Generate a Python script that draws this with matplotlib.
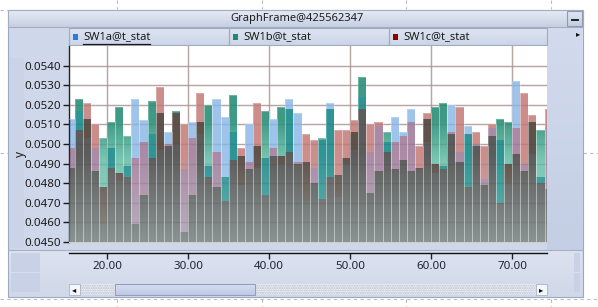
import numpy as np
import matplotlib
matplotlib.use("Agg")
import matplotlib.pyplot as plt
from matplotlib.patches import Rectangle
from matplotlib.path import Path

plt.rcParams['font.family'] = ['Noto Sans', 'DejaVu Sans']

# bar positions (left edges) and the three series
bins = list(range(15, 75))
sw1a = [.0513, .0517, .0503, .0498, .0459, .0498, .0481, .0489, .0523, .0512,
        .0505, .0497, .0506, .0500, .0487, .0511, .0505, .0489, .0523, .0514,
        .0506, .0479, .0510, .0488, .0493, .0513, .0490, .0523, .0516, .0471,
        .0488, .0502, .0521, .0473, .0490, .0497, .0524, .0496, .0509, .0501,
        .0514, .0506, .0518, .0487, .0501, .0485, .0489, .0520, .0496, .0509,
        .0500, .0482, .0508, .0502, .0480, .0532, .0490, .0495, .0483, .0509]
sw1b = [.0488, .0523, .0513, .0486, .0503, .0511, .0519, .0504, .0459, .0474,
        .0522, .0516, .0499, .0517, .0455, .0474, .0511, .0520, .0478, .0483,
        .0525, .0494, .0487, .0499, .0517, .0494, .0519, .0518, .0490, .0491,
        .0480, .0503, .0518, .0484, .0493, .0506, .0534, .0475, .0486, .0506,
        .0487, .0492, .0486, .0488, .0513, .0519, .0521, .0505, .0491, .0505,
        .0499, .0479, .0504, .0513, .0511, .0495, .0486, .0511, .0507, .0477]
sw1c = [.0498, .0507, .0521, .0510, .0478, .0488, .0485, .0483, .0493, .0501,
        .0493, .0529, .0500, .0516, .0510, .0503, .0526, .0483, .0496, .0471,
        .0492, .0498, .0491, .0521, .0474, .0498, .0494, .0496, .0491, .0505,
        .0502, .0472, .0483, .0507, .0507, .0512, .0518, .0510, .0511, .0496,
        .0501, .0504, .0511, .0499, .0516, .0490, .0487, .0506, .0519, .0478,
        .0506, .0499, .0510, .0470, .0490, .0508, .0526, .0515, .0480, .0518]
series_names = ['SW1a@t_stat', 'SW1b@t_stat', 'SW1c@t_stat']
legend_cols = ['#2a7fd4', '#1f8a72', '#8b0000']
xticks = [20, 30, 40, 50, 60, 70]
yticks = [0.045 + 0.001 * i for i in range(10)]

W, H = 598, 307
XMIN, XMAX = 15.3, 74.3
YMIN, YMAX = 0.045, 0.055
BASE = 0.040

# colours of the see-through overlaps
single_col = ['#9ec4ec', None, '#cc8d8b']            # a, b(gradient), c alone
pair_col = ['#5f524b', '#ab8aa6', '#2f9494']          # without a, without b, without c
all_col = '#5c5c5c'

fig = plt.figure(figsize=(W / 100, H / 100), dpi=100)
fig.patch.set_facecolor('white')

ui = fig.add_axes([0, 0, 1, 1])
ui.axis('off')


def rect(x0, y0, x1, y1, fc, ec='none', lw=0, z=1, **kw):
    ui.add_patch(Rectangle((x0, y0), x1 - x0, y1 - y0, facecolor=fc,
                           edgecolor=ec, linewidth=lw, zorder=z, **kw))


def vgrad(x0, y0, x1, y1, ctop, cbot, z=1):
    g = np.linspace(0, 1, 32)[:, None, None]
    arr = (np.array(ctop) * (1 - g) + np.array(cbot) * g) / 255.0
    ui.imshow(arr, extent=[x0, x1, y1, y0], aspect='auto', zorder=z,
              interpolation='bilinear')


# designer guides
dash = dict(color='#bcbcbc', lw=0.8, ls=(0, (3, 3)), zorder=0.5)
for gx in [117, 262, 406, 551]:
    ui.plot([gx, gx], [0, 9], **dash)
    ui.plot([gx, gx], [299, 307], **dash)
ui.plot([0, W], [299, 299], **dash)
ui.plot([0, 8], [10, 10], **dash)
ui.plot([583, W], [153, 153], **dash)
ui.plot([0, 8], [153, 153], **dash)

# panel
rect(8, 10, 583, 297, '#cfd8ea', ec='#9fa9bd', lw=0.8, z=1)
vgrad(8, 10, 583, 27, (230, 235, 244), (198, 208, 227), z=2)
rect(8, 10, 583, 27, 'none', ec='#a3adc2', lw=0.8, z=3)
ui.text(297, 19, 'GraphFrame@425562347', ha='center', va='center',
        fontsize=8, color='#1e1e1e', zorder=4)
vgrad(567, 11, 582, 26, (226, 232, 243), (196, 206, 226), z=3)
rect(567, 11, 582, 26, 'none', ec='#8f9ab2', lw=0.8, z=4)
ui.plot([572, 578], [19.5, 19.5], color='#222222', lw=1.4, zorder=5)

# side strips
vgrad(547, 28, 583, 250, (210, 219, 237), (196, 206, 228), z=2)
rect(9, 58, 24, 248, '#cbd4e7', z=2)
ui.plot([8, 583], [250, 250], color='#a6afc3', lw=0.8, zorder=3)

# x-axis band
vgrad(9, 251, 582, 296, (220, 226, 240), (208, 216, 233), z=2)
rect(11, 253, 40, 272, '#c8d1e5', z=3)
rect(11, 273, 40, 292, '#c8d1e5', z=3)
rect(574, 253, 580, 272, '#c8d1e5', z=3)
rect(574, 273, 580, 292, '#c8d1e5', z=3)

# scrollbar
rect(69, 284, 547, 295, '#eef0f5', ec='#b7bfd0', lw=0, z=3, hatch='.......')
rect(69, 284, 80, 295, '#f4f6fa', ec='#a9b3c8', lw=0.6, z=4)
rect(536, 284, 547, 295, '#f4f6fa', ec='#a9b3c8', lw=0.6, z=4)
ui.text(74.5, 289.5, '\u25c2', ha='center', va='center', fontsize=6,
        color='#111111', zorder=5, family='DejaVu Sans')
ui.text(541.5, 289.5, '\u25b8', ha='center', va='center', fontsize=6,
        color='#111111', zorder=5, family='DejaVu Sans')
vgrad(115, 284, 255, 295, (214, 222, 240), (190, 202, 228), z=4)
rect(115, 284, 255, 295, 'none', ec='#8e9cba', lw=0.7, z=5)

# legend tabs
tab_edges = [69, 229, 389, 547]
for i, name in enumerate(series_names):
    x0, x1 = tab_edges[i], tab_edges[i + 1]
    vgrad(x0, 28, x1, 45, (222, 228, 241), (204, 213, 232), z=3)
    rect(x0, 28, x1, 45, 'none', ec='#a0abc2', lw=0.8, z=4)
    rect(x0 + 4, 34, x0 + 9, 39.5, legend_cols[i], z=5)
    ui.text(x0 + 14, 37, name, ha='left', va='center', fontsize=8,
            color='#1a1a1a', zorder=5)
ui.plot([83, 150], [43.5, 43.5], color='#1a1a1a', lw=0.9, zorder=5)
ui.text(578, 34, '\u25b8', ha='center', va='center', fontsize=6,
        color='#111111', zorder=5, family='DejaVu Sans')

ui.text(20, 154, 'y', rotation=90, ha='center', va='center', fontsize=8.5,
        color='#1a1a1a', zorder=5)

ui.set_xlim(0, W)
ui.set_ylim(H, 0)

# plot area
ax = fig.add_axes([69 / W, 1 - 242 / H, 478 / W, 196 / H])
ax.set_facecolor('white')
ax.set_axisbelow(True)
ax.grid(True, color='#c9b6b6', lw=1)

x = np.array(bins)
hs = np.vstack([sw1a, sw1b, sw1c])
order = np.argsort(hs, axis=0)
lo = hs.min(axis=0)
mid = np.median(hs, axis=0)
hi = hs.max(axis=0)
low_idx = order[0]
top_idx = order[2]


def bars_path(xs, y0s, y1s):
    verts, codes = [], []
    for xi, a, b in zip(xs, y0s, y1s):
        verts += [(xi, a), (xi + 1, a), (xi + 1, b), (xi, b), (xi, a)]
        codes += [Path.MOVETO, Path.LINETO, Path.LINETO, Path.LINETO, Path.CLOSEPOLY]
    return Path(verts, codes)


# part where all three overlap
ax.bar(x, lo - BASE, bottom=BASE, width=1, align='edge', color=all_col, lw=0, zorder=2)
# part where two overlap
for k in range(3):
    m = low_idx == k
    ax.bar(x[m], (mid - lo)[m], bottom=lo[m], width=1, align='edge',
           color=pair_col[k], lw=0, zorder=2)
# part where only the tallest shows
for k in [0, 2]:
    m = top_idx == k
    ax.bar(x[m], (hi - mid)[m], bottom=mid[m], width=1, align='edge',
           color=single_col[k], lw=0, zorder=2)

vv = np.linspace(YMAX, YMIN, 200)
m = top_idx == 1
t = np.interp(vv, [0.0492, 0.0512], [1.0, 0.0])[:, None]
bcol = (np.array([63, 154, 133]) * (1 - t) + np.array([122, 198, 178]) * t) / 255.0
bimg = ax.imshow(bcol[:, None, :], extent=[XMIN, XMAX, YMIN, YMAX], aspect='auto',
                 zorder=2, interpolation='bilinear')
bimg.set_clip_path(bars_path(x[m], mid[m], hi[m]), ax.transData)

# light wash over the lower part
al = np.interp(vv, [YMIN, 0.0495], [0.40, 0.0])
wash = np.zeros((len(vv), 1, 4))
wash[:, 0, :3] = np.array([205, 232, 226]) / 255.0
wash[:, 0, 3] = al
wimg = ax.imshow(wash, extent=[XMIN, XMAX, YMIN, YMAX], aspect='auto', zorder=3,
                 interpolation='bilinear')
wimg.set_clip_path(bars_path(x, np.full(len(x), BASE), hi), ax.transData)

# faint see-through grid over the bars and light bar edges
for v in yticks:
    ax.axhline(v, color='#3a3030', lw=1, alpha=0.12, zorder=4)
for v in xticks:
    ax.axvline(v, color='#3a3030', lw=1, alpha=0.12, zorder=4)
ax.bar(x, hi - BASE, bottom=BASE, width=1, align='edge', facecolor='none',
       edgecolor=(1, 1, 1, 0.3), lw=0.6, zorder=5)

ax.set_xlim(XMIN, XMAX)
ax.set_ylim(YMIN, YMAX)
ax.set_xticks(xticks)
ax.set_yticks(yticks)
ax.set_yticklabels(['%.4f' % v for v in yticks])
ax.tick_params(axis='x', length=0, labelbottom=False)
ax.tick_params(axis='y', direction='out', length=4, width=1, pad=1.5,
               labelsize=8.3, colors='#1a1a1a')
for s in ['top', 'right']:
    ax.spines[s].set_visible(False)
ax.spines['bottom'].set_color('#d6cccc')
ax.spines['left'].set_color('#222222')
ax.spines['left'].set_linewidth(1)

# separate x-axis strip
xa = fig.add_axes([69 / W, 1 - 253 / H, 478 / W, 0.0001])
xa.set_facecolor('none')
xa.set_xlim(XMIN, XMAX)
xa.set_yticks([])
xa.set_xticks(xticks)
xa.set_xticklabels(['%.2f' % v for v in xticks])
xa.tick_params(axis='x', direction='out', length=4, width=1, pad=1.5,
               labelsize=8.3, colors='#1c2433')
for s in ['top', 'right', 'left']:
    xa.spines[s].set_visible(False)
xa.spines['bottom'].set_color('#111111')
xa.spines['bottom'].set_linewidth(1)

fig.savefig('out.png', dpi=100)
